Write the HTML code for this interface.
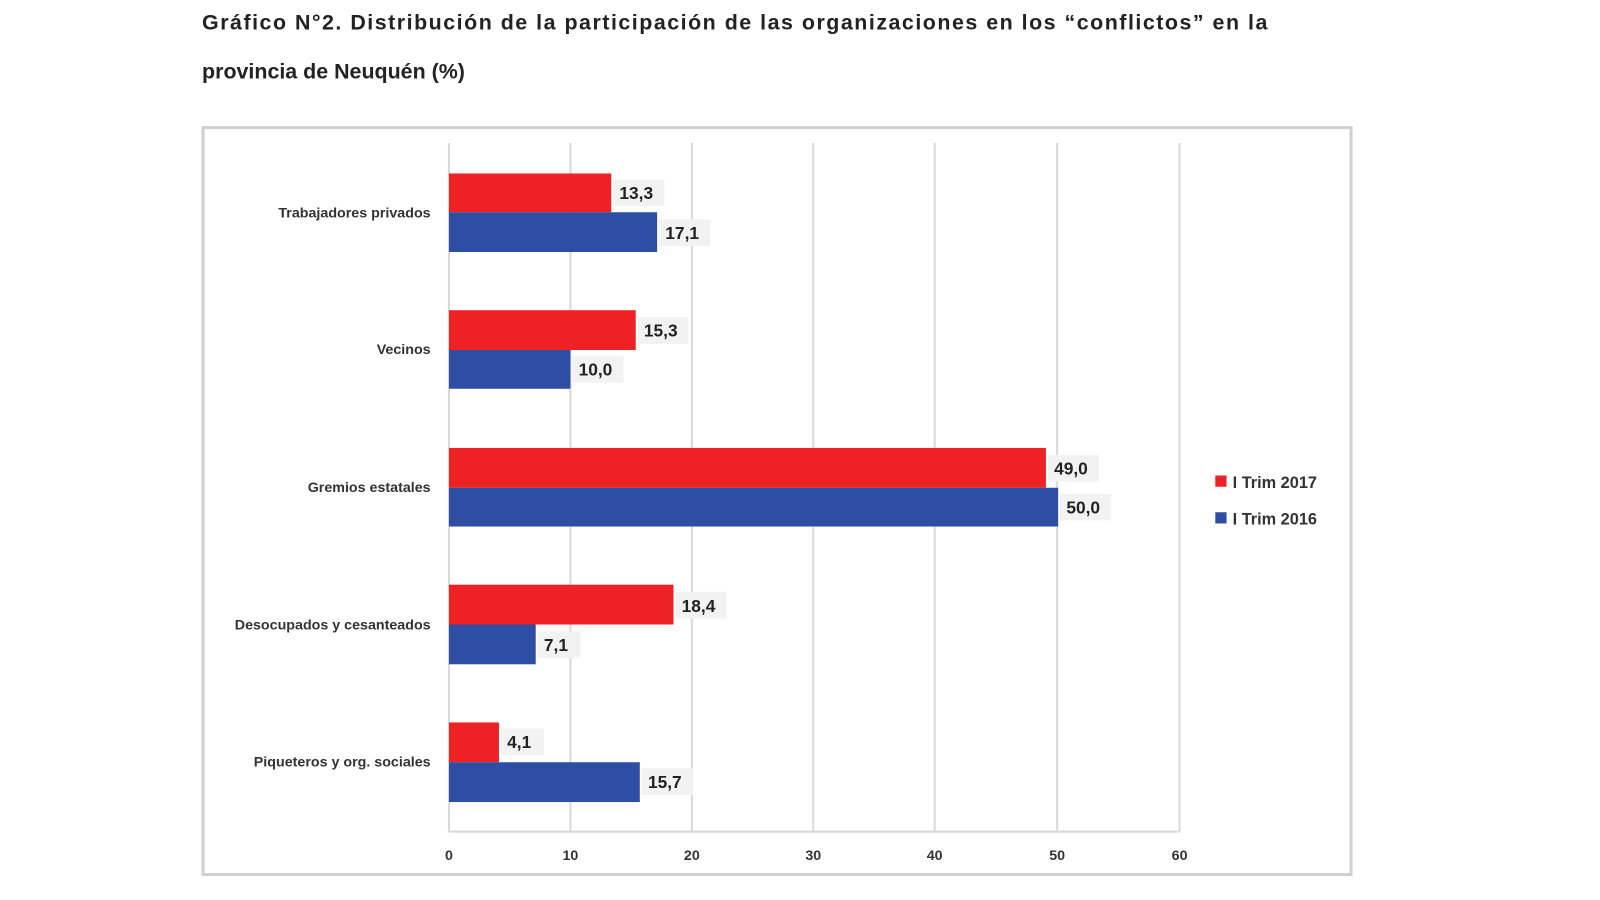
<!DOCTYPE html>
<html><head><meta charset="utf-8"><style>
html,body{margin:0;padding:0;background:#fff;}
svg{display:block;font-family:"Liberation Sans",sans-serif;}
</style></head><body>
<svg width="1600" height="900" viewBox="0 0 1568 882" preserveAspectRatio="none" xmlns="http://www.w3.org/2000/svg">
<text x="198" y="29" font-size="21" font-weight="bold" fill="#222" textLength="1044" lengthAdjust="spacing">Gráfico N°2. Distribución de la participación de las organizaciones en los “conflictos” en la</text>
<text x="198" y="77" font-size="21" font-weight="bold" fill="#222">provincia de Neuquén (%)</text>
<rect x="199" y="125" width="1125" height="732" fill="#fff" stroke="#d0d0d0" stroke-width="3"/>
<g stroke="#d9d9d9" stroke-width="2">
<line x1="440" y1="140" x2="440" y2="815"/><line x1="559" y1="140" x2="559" y2="815"/><line x1="678" y1="140" x2="678" y2="815"/><line x1="797" y1="140" x2="797" y2="815"/><line x1="916" y1="140" x2="916" y2="815"/><line x1="1036" y1="140" x2="1036" y2="815"/><line x1="1156" y1="140" x2="1156" y2="815"/>
<line x1="440" y1="815" x2="1156" y2="815"/>
</g>
<g font-size="14" font-weight="bold" fill="#333" text-anchor="middle">
<text x="440" y="843">0</text><text x="559" y="843">10</text><text x="678" y="843">20</text><text x="797" y="843">30</text><text x="916" y="843">40</text><text x="1036" y="843">50</text><text x="1156" y="843">60</text>
</g>
<g font-size="14" font-weight="bold" fill="#333" text-anchor="end">
<text x="422" y="213">Trabajadores privados</text>
<text x="422" y="347">Vecinos</text>
<text x="422" y="482">Gremios estatales</text>
<text x="422" y="617">Desocupados y cesanteados</text>
<text x="422" y="751">Piqueteros y org. sociales</text>
</g>
<g fill="#ee2124">
<rect x="440" y="170" width="159" height="38"/>
<rect x="440" y="304" width="183" height="39"/>
<rect x="440" y="439" width="585" height="39"/>
<rect x="440" y="573" width="220" height="39"/>
<rect x="440" y="708" width="49" height="39"/>
</g>
<g fill="#2e4ea3">
<rect x="440" y="208" width="204" height="39"/>
<rect x="440" y="343" width="119" height="38"/>
<rect x="440" y="478" width="597" height="38"/>
<rect x="440" y="612" width="85" height="39"/>
<rect x="440" y="747" width="187" height="39"/>
</g>
<g fill="#f2f2f2">
<rect x="601" y="176" width="50" height="26"/><rect x="646" y="215" width="50" height="26"/>
<rect x="625" y="311" width="50" height="26"/><rect x="561" y="349" width="50" height="26"/>
<rect x="1027" y="446" width="50" height="26"/><rect x="1039" y="484" width="50" height="26"/>
<rect x="662" y="580" width="50" height="26"/><rect x="527" y="619" width="42" height="26"/>
<rect x="491" y="714" width="42" height="26"/><rect x="629" y="753" width="50" height="26"/>
</g>
<g font-size="17" font-weight="bold" fill="#222">
<text x="607" y="195">13,3</text><text x="652" y="234">17,1</text>
<text x="631" y="330">15,3</text><text x="567" y="368">10,0</text>
<text x="1033" y="465">49,0</text><text x="1045" y="503">50,0</text>
<text x="668" y="600">18,4</text><text x="533" y="638">7,1</text>
<text x="497" y="733">4,1</text><text x="635" y="772">15,7</text>
</g>
<rect x="1191" y="466" width="11" height="11" fill="#ee2124"/>
<rect x="1191" y="502" width="11" height="11" fill="#2e4ea3"/>
<g font-size="16" font-weight="bold" fill="#333">
<text x="1208" y="478">I Trim 2017</text>
<text x="1208" y="514">I Trim 2016</text>
</g>
</svg>
</body></html>
